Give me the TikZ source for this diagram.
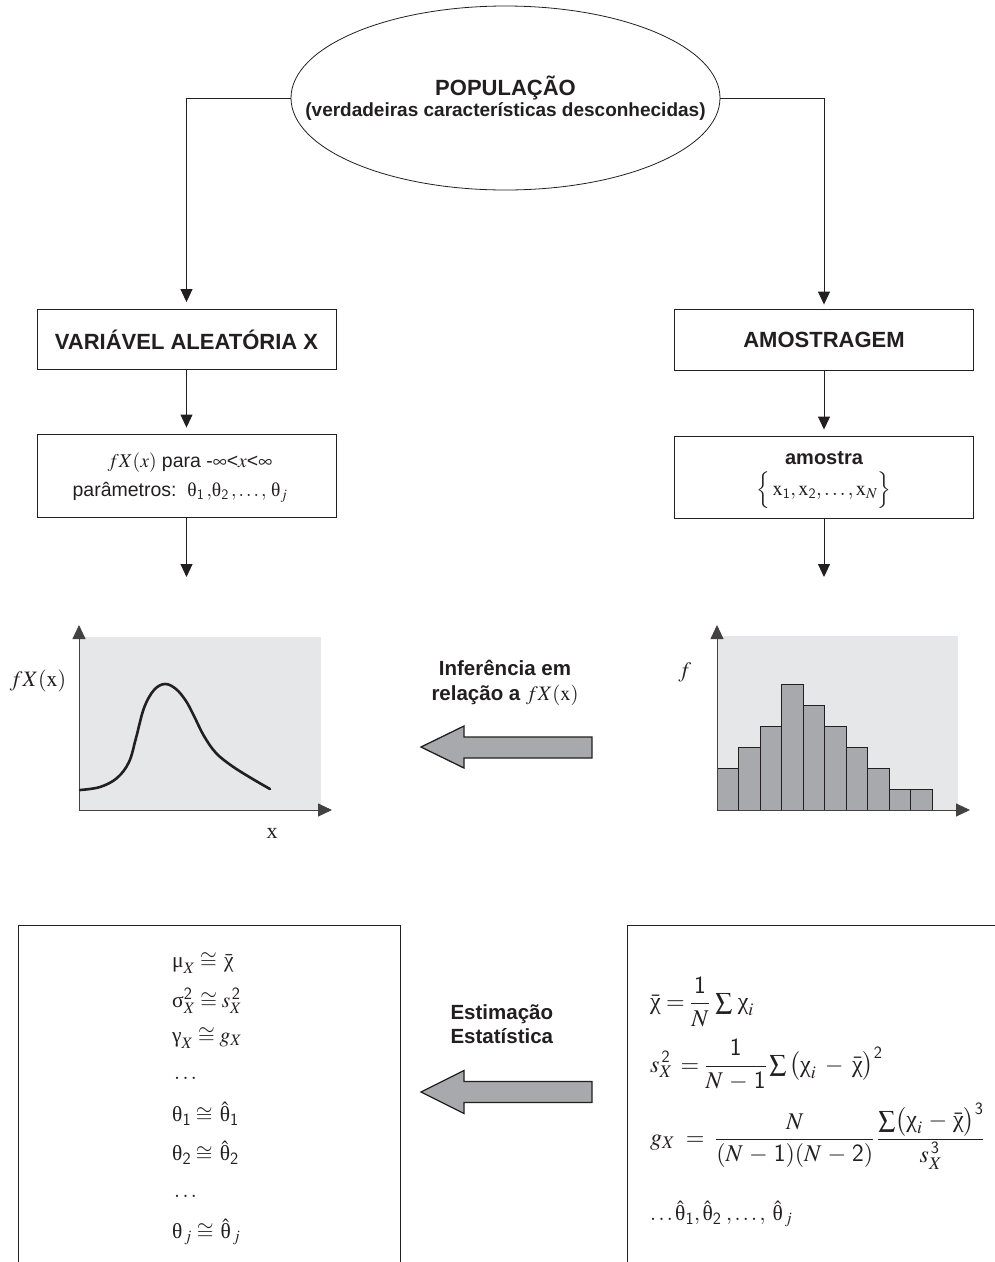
\documentclass[tikz,border=0pt]{standalone}
\usepackage{mathptmx}
\usepackage{fontspec}
\setmainfont{Liberation Serif}
\setsansfont{Liberation Sans}
\newfontfamily\grk{Liberation Serif}
\usetikzlibrary{arrows.meta,shapes.geometric}
\definecolor{ink}{HTML}{231F20}
\definecolor{panel}{HTML}{E6E7E8}
\definecolor{barfill}{HTML}{A7A9AC}
\newcommand{\ug}[1]{\mbox{\grk #1}}
\tikzset{
  flowbox/.style={draw=ink, line width=0.9pt, minimum width=299pt, inner sep=0pt},
  flow/.style={draw=ink, line width=0.9pt, -{Triangle[width=12pt,length=13pt]}},
  axisline/.style={draw=ink!85, line width=0.9pt, -{Triangle[width=13pt,length=14pt]}},
  bigarrow/.style={fill=barfill, draw=ink, line width=1.3pt, line join=miter},
  histbar/.style={fill=barfill, draw=ink, line width=1pt},
  titletext/.style={font=\sffamily\bfseries\fontsize{22}{26}\selectfont, text=ink},
  bodytext/.style={font=\sffamily\fontsize{19.5}{23}\selectfont, text=ink},
  labeltext/.style={font=\sffamily\bfseries\fontsize{20.5}{24.5}\selectfont, text=ink},
  mathrow/.style={font=\rmfamily\fontsize{21.5}{24}\selectfont, text=ink, anchor=west, inner sep=0pt},
  bigmathrow/.style={font=\rmfamily\fontsize{24}{28}\selectfont, text=ink, anchor=west, inner sep=0pt},
  plotlabel/.style={font=\rmfamily\fontsize{22}{24}\selectfont, text=ink},
}
\begin{document}
\begin{tikzpicture}[x=1pt,y=-1pt]
\useasboundingbox (0,0) rectangle (995,1262);
\clip (0,0) rectangle (995,1262);
\fill[white] (0,0) rectangle (995,1262);

% population ellipse
\node[ellipse, draw=ink, line width=0.8pt, minimum width=429pt, minimum height=184pt, inner sep=0pt] (pop) at (505.5,98) {};
\node[titletext] (poptitle) at (505.5,88) {POPULAÇÃO};
\node[font=\sffamily\bfseries\fontsize{19}{22}\selectfont, text=ink] (popsub) at (505.5,111) {(verdadeiras características desconhecidas)};

% left column
\node[flowbox, minimum height=60pt] (vbox) at (186.5,339.5) {};
\node[titletext] (vtitle) at (vbox.center) {VARIÁVEL ALEATÓRIA X};
\node[flowbox, minimum height=83pt] (fbox) at (186.5,475.5) {};
\node[bodytext] (frow1) at (190,463) {$fX(x)$ para {-}$\infty${<}$x${<}$\infty$};
\node[bodytext] (frow2) at (180,492) {parâmetros:\ \ $\ug{θ}_{\mathsf 1}\,{,}\ug{θ}_{\mathsf 2}\,{,}\ldots{,}\;\ug{θ}_{j}$};

% right column
\node[flowbox, minimum height=61pt] (abox) at (824,339.5) {};
\node[titletext] (atitle) at (abox.center) {AMOSTRAGEM};
\node[flowbox, minimum height=82pt] (sbox) at (824,477) {};
\node[font=\sffamily\bfseries\fontsize{20}{23}\selectfont, text=ink] (srow1) at (824,458) {amostra};
\node[font=\rmfamily\fontsize{20.5}{23}\selectfont, text=ink] (srow2) at (824,490) {$\Bigl\{\,\mathrm{x}_{\mathsf 1},\mathrm{x}_{\mathsf 2},\ldots,\mathrm{x}_{N}\Bigr\}$};

% flow connectors
\coordinate (lplottop) at (186.5,577);
\coordinate (rplottop) at (824,577);
\draw[flow, shorten >=7pt] (pop.west) -| (vbox.north);
\draw[flow, shorten >=4pt] (pop.east) -| (abox.north);
\draw[flow, shorten >=6pt] (vbox.south) -- (fbox.north);
\draw[flow, shorten >=6pt] (abox.south) -- (sbox.north);
\draw[flow] (fbox.south) -- (lplottop);
\draw[flow] (sbox.south) -- (rplottop);

% left plot
\fill[panel] (79,637) rectangle (321,810);
\coordinate (lorigin) at (79,810);
\coordinate (lytip) at (79,625);
\coordinate (lxtip) at (332,810);
\draw[axisline] (lorigin) -- (lytip);
\draw[axisline] (lorigin) -- (lxtip);
\draw[ink, line width=2.6pt, line cap=round] plot[smooth, tension=0.6] coordinates {
 (80,790) (100,787) (117,778) (129,762) (136,738) (144,708) (154,690) (165,684)
 (176,689) (186,701) (194,716) (204,736) (216,753) (232,766) (251,778) (270,789)};
\node[plotlabel] (fxlab) at (38,681) {$fX(\mathrm{x})$};
\node[plotlabel] (xlab) at (272,833) {x};

% right plot
\fill[panel] (717,636) rectangle (958,810);
\foreach \h [count=\i from 0] in {2,3,4,6,5,4,3,2,1,1}
  \draw[histbar] ({717+21.55*\i},810) rectangle ++(21.55,{-20.9*\h});
\coordinate (rorigin) at (717,810);
\coordinate (rytip) at (717,625);
\coordinate (rxtip) at (970,810);
\draw[axisline] (rorigin) -- (rytip);
\draw[axisline] (rorigin) -- (rxtip);
\node[plotlabel] (flab) at (685,672) {$f$};

% inference arrow
\node[labeltext, align=center] (inftext) at (505,683) {Inferência em\\relação a \mdseries$fX(\mathrm{x})$};
\draw[bigarrow] (421,747) -- (464,726) -- (464,737) -- (592,737) -- (592,758) -- (464,758) -- (464,768) -- cycle;

% estimation arrow
\node[labeltext, align=left, anchor=west] (esttext) at (447,1024) {Estimação\\Estatística};
\draw[bigarrow] (421,1092) -- (464,1070.5) -- (464,1081.5) -- (592,1081.5) -- (592,1102.5) -- (464,1102.5) -- (464,1113.5) -- cycle;

% bottom boxes
\node[draw=ink, line width=0.9pt, minimum width=382pt, minimum height=400pt, anchor=north west, inner sep=0pt] (estl) at (18,925) {};
\node[draw=ink, line width=0.9pt, minimum width=420pt, minimum height=400pt, anchor=north west, inner sep=0pt] (estr) at (627,925) {};

\node[mathrow] (l1) at (172,963) {$\ug{μ}_X\cong\,\bar{\ug{χ}}$};
\node[mathrow] (l2) at (172,1001) {$\ug{σ}^{\mathsf 2}_X\cong s^{\,\mathsf 2}_X$};
\node[mathrow] (l3) at (172,1038) {$\ug{γ}_X\cong g_X$};
\node[mathrow] (l4) at (174,1078) {$\ldots$};
\node[mathrow] (l5) at (172,1114) {$\ug{θ}_{\mathsf 1}\cong\,\hat{\ug{θ}}_{\mathsf 1}$};
\node[mathrow] (l6) at (172,1153) {$\ug{θ}_{\mathsf 2}\cong\,\hat{\ug{θ}}_{\mathsf 2}$};
\node[mathrow] (l7) at (174,1196) {$\ldots$};
\node[mathrow] (l8) at (172,1232) {$\ug{θ}_{\,j}\cong\,\hat{\ug{θ}}_{\,j}$};

\node[bigmathrow] (r1) at (650,1002) {$\displaystyle\bar{\ug{χ}}=\frac{\mathsf 1}{N}\;{\textstyle\sum}\;\ug{χ}_i$};
\node[bigmathrow] (r2) at (650,1065) {$\displaystyle s^{\,\mathsf 2}_X\,=\frac{\mathsf 1}{N\,-\,\mathsf 1}\,{\textstyle\sum}\,\bigl(\ug{χ}_i\;-\;\bar{\ug{χ}}\bigr)^{\mathsf 2}$};
\node[bigmathrow] (r3) at (650,1136) {$\displaystyle g_X\;=\;\frac{N}{(N\,-\,\mathsf 1)(N\,-\,\mathsf 2)}\,\frac{{\textstyle\sum}\bigl(\ug{χ}_i\,-\,\bar{\ug{χ}}\bigr)^{\mathsf 3}}{s^{\,\mathsf 3}_X}$};
\node[mathrow] (r4) at (650,1214) {$\ldots\hat{\ug{θ}}_{\mathsf 1},\hat{\ug{θ}}_{\mathsf 2}\;,\ldots,\;\hat{\ug{θ}}_{\,j}$};
\end{tikzpicture}
\end{document}
